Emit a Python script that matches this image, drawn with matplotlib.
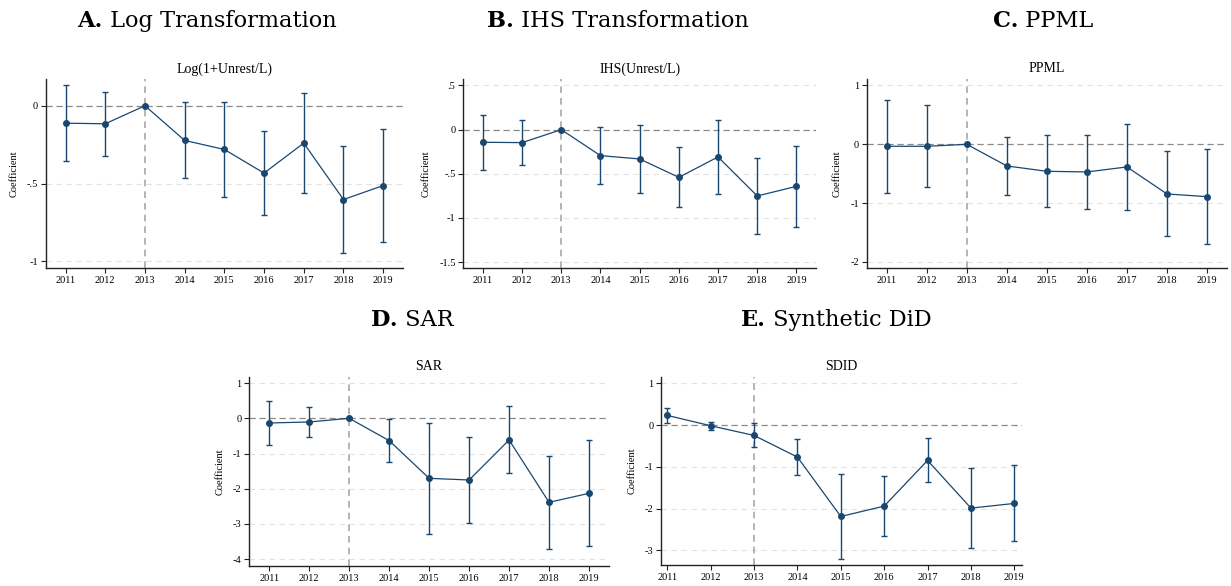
import matplotlib
matplotlib.use("Agg")
import matplotlib.pyplot as plt
import numpy as np

years = [2011, 2012, 2013, 2014, 2015, 2016, 2017, 2018, 2019]

# Panel A: Log(1+Unrest/L)
a_coef = [-0.112, -0.116, 0.0, -0.223, -0.281, -0.433, -0.240, -0.603, -0.513]
a_hi   = [0.133, 0.086, 0.0, 0.021, 0.024, -0.163, 0.082, -0.262, -0.152]
a_lo   = [-0.354, -0.320, 0.0, -0.466, -0.586, -0.704, -0.562, -0.944, -0.873]

# Panel B: IHS(Unrest/L)
b_coef = [-0.143, -0.147, 0.0, -0.294, -0.332, -0.540, -0.309, -0.751, -0.642]
b_hi   = [0.170, 0.109, 0.0, 0.026, 0.053, -0.200, 0.109, -0.321, -0.181]
b_lo   = [-0.457, -0.404, 0.0, -0.611, -0.721, -0.879, -0.732, -1.185, -1.102]

# Panel C: PPML
c_coef = [-0.034, -0.034, 0.0, -0.368, -0.459, -0.470, -0.385, -0.844, -0.890]
c_hi   = [0.759, 0.663, 0.0, 0.119, 0.159, 0.164, 0.351, -0.113, -0.085]
c_lo   = [-0.827, -0.720, 0.0, -0.856, -1.071, -1.105, -1.110, -1.564, -1.700]

# Panel D: SAR
d_coef = [-0.133, -0.104, 0.0, -0.634, -1.705, -1.752, -0.616, -2.386, -2.131]
d_hi   = [0.483, 0.331, 0.0, -0.019, -0.123, -0.530, 0.341, -1.060, -0.625]
d_lo   = [-0.748, -0.540, 0.0, -1.250, -3.286, -2.973, -1.563, -3.712, -3.636]

# Panel E: SDID
e_coef = [0.232, -0.016, -0.248, -0.766, -2.188, -1.940, -0.846, -1.988, -1.876]
e_hi   = [0.399, 0.080, 0.040, -0.327, -1.166, -1.230, -0.319, -1.030, -0.958]
e_lo   = [0.048, -0.128, -0.535, -1.198, -3.210, -2.650, -1.365, -2.938, -2.786]

a_ticks = [0, -0.5, -1]
a_ticklabels = ["0", "-.5", "-1"]
b_ticks = [0.5, 0, -0.5, -1, -1.5]
b_ticklabels = [".5", "0", "-.5", "-1", "-1.5"]
c_ticks = [1, 0, -1, -2]
c_ticklabels = ["1", "0", "-1", "-2"]
d_ticks = [1, 0, -1, -2, -3, -4]
d_ticklabels = ["1", "0", "-1", "-2", "-3", "-4"]
e_ticks = [1, 0, -1, -2, -3]
e_ticklabels = ["1", "0", "-1", "-2", "-3"]

W, H = 1231, 586
fig = plt.figure(figsize=(W / 100, H / 100), dpi=100)
fig.patch.set_facecolor("white")

SERIF = ["Liberation Serif", "DejaVu Serif"]
BIGSERIF = ["DejaVu Serif"]
NAVY = "#1a476f"


def make_ax(l, r, t, b):
    return fig.add_axes([l / W, 1 - b / H, (r - l) / W, (b - t) / H])


def panel(box, coef, lo, hi, ticks, ticklabels, ylim, xlim, title):
    l, r, t, b = box
    ax = make_ax(l, r, t, b)
    coef = np.array(coef)
    lo = np.array(lo)
    hi = np.array(hi)
    for yv in ticks:
        if yv != 0:
            ax.axhline(yv, color="#e3e3e3", lw=0.8, ls=(0, (5, 4)), zorder=0)
    ax.axhline(0, color="#8a8a8a", lw=0.9, ls=(0, (5, 3)), zorder=1)
    ax.axvline(2013, color="#a8a8a8", lw=1.2, ls=(0, (4, 3)), zorder=1)
    ax.errorbar(years, coef, yerr=[coef - lo, hi - coef], fmt="none",
                ecolor=NAVY, elinewidth=1.0, capsize=2.2, capthick=1.0,
                zorder=2)
    ax.plot(years, coef, color=NAVY, lw=0.9, marker="o", ms=4.0,
            mfc=NAVY, mec=NAVY, zorder=3)
    ax.set_xlim(*xlim)
    ax.set_ylim(*ylim)
    ax.set_xticks(years)
    ax.set_xticklabels([str(y) for y in years], fontfamily=SERIF, fontsize=7.5)
    ax.set_yticks(ticks)
    ax.set_yticklabels(ticklabels, fontfamily=SERIF, fontsize=7.5)
    ax.tick_params(axis="both", direction="out", length=3.5, width=0.8,
                   color="#222222", pad=2)
    for s in ["top", "right"]:
        ax.spines[s].set_visible(False)
    for s in ["left", "bottom"]:
        ax.spines[s].set_linewidth(1.0)
        ax.spines[s].set_color("#222222")
    ax.set_ylabel("Coefficient", fontfamily=SERIF, fontsize=7.5, labelpad=6)
    hpx = b - t
    ax.text(0.5, 1 + 10.5 / hpx, title, transform=ax.transAxes,
            ha="center", va="center", fontfamily=SERIF, fontsize=10)
    return ax


panel((45.7, 403, 79.3, 268.3), a_coef, a_lo, a_hi, a_ticks, a_ticklabels,
      (-1.045, 0.17), (2010.5, 2019.5), "Log(1+Unrest/L)")
panel((463.3, 816, 79.3, 268.3), b_coef, b_lo, b_hi, b_ticks, b_ticklabels,
      (-1.57, 0.57), (2010.5, 2019.5), "IHS(Unrest/L)")
panel((866.7, 1227, 79.3, 268.3), c_coef, c_lo, c_hi, c_ticks, c_ticklabels,
      (-2.108, 1.105), (2010.5, 2019.5), "PPML")
panel((249.3, 609, 377.3, 566), d_coef, d_lo, d_hi, d_ticks, d_ticklabels,
      (-4.195, 1.165), (2010.5, 2019.5), "SAR")
panel((661, 1021.7, 377.3, 565), e_coef, e_lo, e_hi, e_ticks, e_ticklabels,
      (-3.35, 1.144), (2010.855, 2019.17), "SDID")


def big_title(cx, cy, letter, rest):
    fs = 16.2
    t1 = fig.text(0, 0, letter, fontfamily=BIGSERIF, fontsize=fs,
                  fontweight="bold")
    t2 = fig.text(0, 0, " " + rest, fontfamily=BIGSERIF, fontsize=fs)
    fig.canvas.draw()
    r = fig.canvas.get_renderer()
    w1 = t1.get_window_extent(r).width
    w2 = t2.get_window_extent(r).width
    x0 = cx - (w1 + w2) / 2
    t1.set_position((x0 / W, 1 - cy / H))
    t1.set_va("baseline")
    t2.set_position(((x0 + w1) / W, 1 - cy / H))
    t2.set_va("baseline")


big_title(207, 27, "A.", "Log Transformation")
big_title(618, 27, "B.", "IHS Transformation")
big_title(1043, 27, "C.", "PPML")
big_title(412, 326, "D.", "SAR")
big_title(836, 326, "E.", "Synthetic DiD")

fig.savefig("out.png", dpi=100, facecolor="white")
